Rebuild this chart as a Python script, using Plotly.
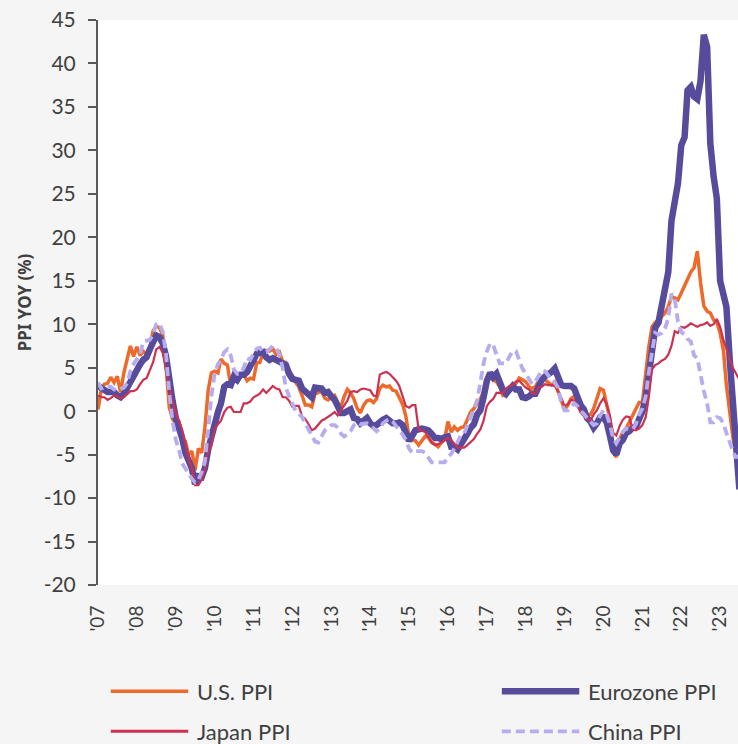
"""PPI year-over-year comparison: U.S., Eurozone, Japan, China."""

import pandas as pd
import plotly.graph_objects as go

# monthly YoY %, Jan 2007 onwards
us_ppi = [
    0.2, 2.5, 3.1, 3.2, 3.9, 3.3, 4.0, 2.2, 4.4, 6.1, 7.5, 6.3,
    7.4, 6.4, 6.9, 6.5, 7.2, 9.2, 9.8, 9.6, 8.7, 5.2, 0.4, -0.9,
    -1.4, -1.3, -3.5, -3.5, -5.0, -4.6, -6.8, -4.3, -4.8, -1.9, 2.4, 4.4,
    4.6, 4.4, 6.0, 5.5, 5.3, 2.8, 4.2, 3.3, 4.0, 4.3, 3.5, 3.8,
    3.7, 5.6, 5.6, 6.7, 7.0, 6.9, 7.2, 6.5, 6.8, 5.7, 5.6, 4.7,
    4.1, 3.3, 2.8, 1.8, 0.7, 0.7, 0.5, 2.0, 2.2, 2.3, 1.5, 1.3,
    1.6, 1.8, 1.0, 0.5, 1.7, 2.5, 2.1, 1.4, 0.3, -0.2, 0.7, 1.2,
    1.3, 1.0, 1.4, 2.6, 3.0, 2.8, 2.9, 2.4, 2.3, 1.5, 0.8, -0.5,
    -3.0, -3.3, -3.4, -3.9, -3.4, -2.9, -3.0, -3.6, -3.8, -4.1, -3.6, -3.3,
    -1.2, -2.4, -1.8, -2.2, -1.9, -1.8, -1.0, -0.1, 0.3, 0.8, 1.4, 2.2,
    3.5, 4.1, 3.6, 3.4, 2.8, 1.8, 1.8, 2.6, 3.1, 3.2, 3.8, 3.6,
    3.4, 2.8, 2.6, 2.8, 3.5, 3.7, 3.6, 3.3, 3.0, 3.3, 2.2, 1.0,
    0.2, 0.7, 1.4, 1.7, 0.7, 0.2, 0.2, -0.5, -0.4, 0.3, 1.5, 2.6,
    2.4, 0.8, -0.9, -4.4, -5.3, -3.3, -2.4, -2.0, -1.2, -0.4, 0.3, 1.0,
    1.0, 4.8, 7.3, 9.7, 10.2, 10.5, 10.9, 11.3, 12.0, 13.2, 13.0, 12.8,
    13.6, 14.4, 15.3, 16.0, 16.5, 18.4, 14.8, 12.1, 11.5, 11.3, 10.5, 10.2,
    9.0, 7.0, 3.0, -0.5, -3.0, -5.0, -6.0,
]
eurozone_ppi = [
    2.9, 2.6, 2.4, 2.2, 2.2, 2.2, 1.8, 1.6, 2.0, 2.7, 3.3, 4.1,
    5.0, 5.4, 5.9, 6.2, 7.1, 8.0, 8.7, 8.5, 7.8, 6.3, 3.3, 1.2,
    -0.8, -1.9, -3.1, -4.8, -5.8, -6.6, -8.4, -7.5, -7.6, -6.6, -4.4, -2.9,
    -1.0, -0.1, 0.9, 2.8, 3.1, 3.0, 4.0, 3.6, 4.2, 4.2, 4.5, 5.3,
    6.0, 6.6, 6.7, 6.8, 6.2, 5.9, 6.1, 5.9, 5.8, 5.5, 5.3, 4.3,
    3.7, 3.6, 3.5, 2.6, 2.3, 1.8, 1.6, 2.7, 2.7, 2.6, 2.1, 2.2,
    1.7, 1.3, 0.6, -0.2, -0.2, 0.1, 0.2, -0.8, -0.9, -1.4, -1.2, -0.8,
    -1.4, -1.7, -1.6, -1.2, -1.0, -0.8, -1.1, -1.4, -1.4, -1.3, -1.6, -2.7,
    -3.4, -2.8, -2.2, -2.1, -2.0, -2.1, -2.2, -2.6, -3.1, -3.1, -3.2, -3.0,
    -2.9, -4.1, -4.1, -4.4, -3.9, -3.1, -2.6, -1.9, -1.5, -0.4, 0.1, 1.6,
    3.5, 4.4, 3.9, 4.3, 3.3, 2.4, 2.0, 2.5, 2.9, 2.5, 2.5, 1.6,
    1.5, 1.7, 2.0, 2.0, 3.0, 3.6, 4.0, 4.2, 4.5, 4.9, 4.0, 3.0,
    2.9, 3.0, 2.9, 2.6, 1.6, 0.7, 0.2, -0.8, -1.2, -1.9, -1.4, -0.7,
    -0.7, -1.3, -2.8, -4.5, -5.0, -3.7, -3.3, -2.5, -2.3, -1.9, -1.8, -1.1,
    0.0, 1.5, 4.3, 7.6, 9.6, 10.2, 12.1, 13.4, 16.0, 21.9, 23.7, 26.2,
    30.6, 31.5, 36.9, 37.3, 36.2, 35.9, 38.0, 43.3, 41.9, 30.8, 27.0, 24.5,
    15.0, 13.5, 12.0, 6.0, 0.5, -5.0, -9.0,
]
japan_ppi = [
    1.8, 1.6, 1.6, 1.3, 1.5, 1.8, 1.7, 1.5, 1.6, 2.0, 2.3, 2.3,
    2.5, 3.1, 3.6, 3.8, 4.7, 5.6, 7.1, 7.4, 6.7, 4.7, 2.6, 1.0,
    -0.1, -1.1, -2.1, -3.8, -5.4, -6.6, -8.5, -8.5, -7.9, -6.7, -4.6, -3.9,
    -2.0, -1.5, -1.1, -0.1, 0.4, 0.5, -0.1, -0.1, -0.1, 0.9, 0.9, 1.1,
    1.6, 1.8, 2.0, 2.5, 2.1, 2.5, 2.9, 2.6, 2.5, 1.6, 1.6, 1.2,
    0.5, 0.6, 0.6, -0.6, -0.9, -1.5, -2.2, -2.0, -1.5, -1.1, -0.9, -0.6,
    -0.4, -0.1, -0.5, 0.1, 0.6, 1.2, 2.2, 2.3, 2.2, 2.5, 2.6, 2.5,
    2.4, 1.8, 1.7, 4.2, 4.4, 4.5, 4.3, 3.9, 3.5, 2.9, 1.6, 0.6,
    0.4, 0.7, 0.7, -2.1, -2.2, -2.4, -3.0, -3.6, -3.9, -3.8, -3.6, -3.4,
    -3.1, -3.3, -3.8, -4.2, -4.2, -4.2, -3.9, -3.6, -3.2, -2.6, -2.1, -1.1,
    0.6, 1.1, 1.4, 2.1, 2.1, 2.1, 2.6, 2.9, 3.0, 3.4, 3.5, 3.1,
    2.7, 2.5, 2.1, 2.0, 2.7, 2.8, 3.1, 3.0, 3.0, 2.9, 2.3, 1.5,
    0.6, 0.8, 1.3, 1.2, 0.7, -0.2, -0.6, -0.9, -1.1, -0.4, 0.1, 0.9,
    1.5, 0.8, -0.5, -2.5, -2.8, -1.7, -1.0, -0.6, -0.7, -2.1, -2.2, -2.0,
    -1.6, -0.7, 1.5, 4.8, 5.3, 5.5, 5.8, 6.0, 6.5, 7.5, 9.2, 9.0,
    9.7, 9.6, 9.8, 10.1, 9.9, 9.7, 9.9, 10.0, 10.2, 9.8, 10.0, 10.6,
    9.7, 8.2, 7.2, 5.9, 5.0, 4.3, 3.6,
]
china_ppi = [
    3.3, 2.6, 2.7, 2.9, 2.8, 2.5, 2.4, 2.6, 2.7, 3.2, 4.6, 5.4,
    6.1, 6.6, 8.0, 8.1, 8.2, 8.8, 10.0, 10.1, 9.1, 6.6, 2.0, -1.1,
    -3.3, -4.5, -6.0, -6.6, -7.2, -7.8, -8.2, -7.9, -7.0, -5.8, -2.1, 1.7,
    4.3, 5.4, 5.9, 6.8, 7.1, 6.4, 4.8, 4.3, 4.3, 5.0, 6.1, 5.9,
    6.6, 7.2, 7.3, 6.8, 6.8, 7.1, 7.5, 7.3, 6.5, 5.0, 2.7, 1.7,
    0.7, 0.0, -0.3, -0.7, -1.4, -2.1, -2.9, -3.5, -3.6, -2.8, -2.2, -1.9,
    -1.6, -1.6, -1.9, -2.6, -2.9, -2.7, -2.3, -1.6, -1.3, -1.5, -1.4, -1.4,
    -1.6, -2.0, -2.3, -2.0, -1.4, -1.1, -0.9, -1.2, -1.8, -2.2, -2.7, -3.3,
    -4.3, -4.8, -4.6, -4.6, -4.6, -4.8, -5.4, -5.9, -5.9, -5.9, -5.9, -5.9,
    -5.3, -4.9, -4.3, -3.4, -2.8, -2.6, -1.7, -0.8, 0.1, 1.2, 3.3, 5.5,
    6.9, 7.8, 7.6, 6.4, 5.5, 5.5, 5.5, 6.3, 6.9, 6.9, 5.8, 4.9,
    4.3, 3.7, 3.1, 3.4, 4.1, 4.7, 4.6, 4.1, 3.6, 3.3, 2.7, 0.9,
    0.1, 0.1, 0.4, 0.9, 0.6, 0.0, -0.3, -0.8, -1.2, -1.6, -1.4, -0.5,
    0.1, -0.4, -1.5, -3.1, -3.7, -3.0, -2.4, -2.0, -2.1, -2.1, -1.5, -0.4,
    0.3, 1.7, 4.4, 6.8, 9.0, 8.8, 9.0, 9.5, 10.7, 13.5, 12.9, 10.3,
    9.1, 8.8, 8.3, 8.0, 6.4, 6.1, 4.2, 2.3, 0.9, -1.3, -1.3, -0.7,
    -0.8, -1.4, -2.5, -3.6, -4.6, -5.4, -4.4,
]

year_ticks = [f"{y}-01-01" for y in range(2007, 2024)]
year_labels = [f"'{y % 100:02d}" for y in range(2007, 2024)]
y_ticks = list(range(-20, 50, 5))
y_labels = [str(v) for v in y_ticks]  # plain hyphen minus, like the source

dates = pd.date_range("2007-01-01", periods=len(us_ppi), freq="MS")

FONT = "Lato"
TEXT = "#404040"
AXIS = "#595959"
BG = "#F5F5F5"
X_RANGE = ["2007-01-01", "2023-06-18"]

series = [
    ("U.S. PPI", us_ppi, "#EE6A2A", 3.5, "solid"),
    ("Eurozone PPI", eurozone_ppi, "#574B9C", 6.5, "solid"),
    ("Japan PPI", japan_ppi, "#CB3151", 2.2, "solid"),
    ("China PPI", china_ppi, "#B7ADEE", 3.8, "9px,5px"),
]

fig = go.Figure()
for name, values, color, width, dash in series:
    fig.add_trace(
        go.Scatter(
            x=dates,
            y=values,
            name=name,
            mode="lines",
            line=dict(color=color, width=width, dash=dash),
            showlegend=False,
        )
    )

# hand-made legend: 2 x 2 grid under the plot
legend_slots = [(0.020, -0.188), (0.631, -0.188), (0.020, -0.259), (0.631, -0.259)]
for (name, _, color, width, dash), (lx, ly) in zip(series, legend_slots):
    fig.add_shape(
        type="line",
        xref="paper",
        yref="paper",
        x0=lx,
        x1=lx + 0.121,
        y0=ly,
        y1=ly,
        line=dict(color=color, width=max(width, 3), dash=dash),
    )
    fig.add_annotation(
        text=name,
        xref="paper",
        yref="paper",
        x=lx + 0.131,
        y=ly,
        xanchor="left",
        yanchor="middle",
        showarrow=False,
        font=dict(family=FONT, size=22, color=TEXT),
    )

fig.update_layout(
    width=738,
    height=744,
    paper_bgcolor=BG,
    plot_bgcolor="#FFFFFF",
    margin=dict(l=98, r=0, t=20, b=159),
    font=dict(family=FONT, color=TEXT),
    showlegend=False,
    xaxis=dict(
        type="date",
        range=X_RANGE,
        automargin=False,
        tickmode="array",
        tickvals=year_ticks,
        ticktext=year_labels,
        tickangle=-90,
        ticks="outside",
        ticklen=12,
        tickcolor="rgba(0,0,0,0)",
        tickfont=dict(family=FONT, size=19, color=TEXT),
        showline=False,
        showgrid=False,
        zeroline=False,
    ),
    # category axis crossing at zero, with year ticks
    xaxis2=dict(
        type="date",
        overlaying="x",
        anchor="free",
        position=20 / 65,
        range=X_RANGE,
        automargin=False,
        tickmode="array",
        tickvals=year_ticks,
        ticks="outside",
        ticklen=6,
        tickwidth=2,
        tickcolor=AXIS,
        showticklabels=False,
        showline=True,
        linecolor=AXIS,
        linewidth=2,
        showgrid=False,
        zeroline=False,
        layer="below traces",
    ),
    yaxis=dict(
        range=[-20, 45],
        automargin=False,
        tickmode="array",
        tickvals=y_ticks,
        ticktext=y_labels,
        ticks="outside",
        ticklen=8,
        tickwidth=2,
        tickcolor=AXIS,
        ticklabelstandoff=8,
        tickfont=dict(family=FONT, size=21, color=TEXT),
        showline=True,
        linecolor=AXIS,
        linewidth=2,
        showgrid=False,
        zeroline=False,
        title=dict(
            text="<b>PPI YOY (%)</b>",
            font=dict(family="Noto Sans", size=17, color=TEXT),
            standoff=8,
        ),
    ),
)

# drop the browser's default body margin so the figure sits flush in the window
fig.write_html(
    "out.html",
    config={"displayModeBar": False},
    post_script=(
        "document.body.style.margin='0';"
        "document.body.style.overflow='hidden';"
        f"document.body.style.background='{BG}';"
    ),
)
